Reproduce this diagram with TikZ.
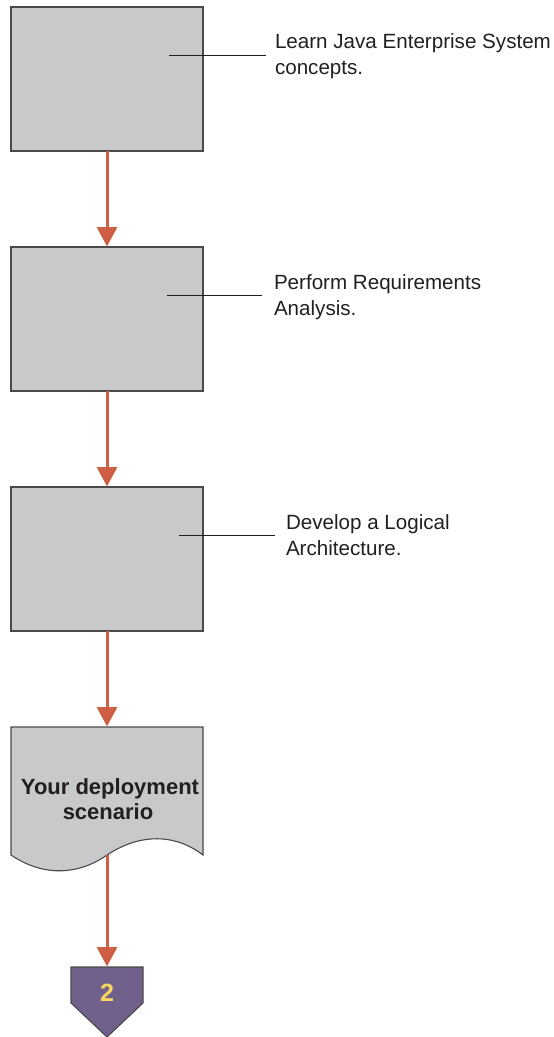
\documentclass[tikz,border=0pt]{standalone}
\usepackage{fontspec}
\setmainfont{Liberation Sans}
\usetikzlibrary{arrows.meta}
\definecolor{boxgray}{HTML}{C8C9CB}
\definecolor{edgegray}{HTML}{4A4A4C}
\definecolor{arrowred}{HTML}{CE5F45}
\definecolor{stagepurple}{HTML}{72608C}
\definecolor{stageyellow}{HTML}{F9D65C}
\definecolor{inkdark}{HTML}{231F20}
\tikzset{
  x=1pt,y=-1pt,
  stepbox/.style={draw=edgegray,fill=boxgray,line width=1.1pt,minimum width=192pt,minimum height=144pt,inner sep=0pt,outer sep=0pt,rectangle},
  flowarrow/.style={draw=arrowred,line width=3pt,-{Triangle[length=19.5pt,width=20pt,fill=arrowred]},shorten >=0.5pt},
  leader/.style={draw=inkdark,line width=0.8pt},
  note/.style={anchor=north west,align=left,inner sep=0pt,outer sep=0pt,font=\fontsize{20.6pt}{26pt}\selectfont,text=inkdark},
  doctext/.style={align=center,font=\fontsize{22pt}{25pt}\selectfont\bfseries,text=inkdark,inner sep=0pt},
  shapeline/.style={draw=edgegray,line width=1.1pt},
}
\begin{document}
\begin{tikzpicture}
\useasboundingbox (0,0) rectangle (554,1037);
\node[stepbox] (s1) at (107,79) {};
\node[stepbox] (s2) at (107,319) {};
\node[stepbox] (s3) at (107,559) {};
% document shape
\path[shapeline,fill=boxgray] (11,727) -- (203,727) -- (203,855)
  .. controls (180,837) and (145,830) .. (107,855)
  .. controls (80,874) and (45,878) .. (11,855) -- cycle;
\node[doctext] (doc) at (110,799) {Your deployment\\scenario\mbox{}\hspace*{4pt}\mbox{}};
\coordinate (docin) at (107,727);
\coordinate (docout) at (107,855);
% off-page marker
\path[shapeline,fill=stagepurple] (71,967) -- (143,967) -- (143,1003) -- (107,1037) -- (71,1003) -- cycle;
\node[text=stageyellow,font=\fontsize{25pt}{28pt}\selectfont\bfseries,inner sep=0pt] (two) at (107,993) {2};
\coordinate (twoin) at (107,967);
% arrows
\draw[flowarrow] (s1.south) -- (s2.north);
\draw[flowarrow] (s2.south) -- (s3.north);
\draw[flowarrow] (s3.south) -- (docin);
\draw[flowarrow] (docout) -- (twoin);
% notes
\node[note] (n1) at (275,34) {Learn Java Enterprise System\\concepts.};
\node[note] (n2) at (274,275) {Perform Requirements\\Analysis.};
\node[note] (n3) at (286,515) {Develop a Logical\\Architecture.};
\coordinate (l1) at (169,55);
\coordinate (l2) at (167,295);
\coordinate (l3) at (179,535);
\coordinate (e1) at (266,55);
\coordinate (e2) at (262,295);
\coordinate (e3) at (275,535);
\draw[leader] (l1) -- (e1);
\draw[leader] (l2) -- (e2);
\draw[leader] (l3) -- (e3);
\end{tikzpicture}
\end{document}
